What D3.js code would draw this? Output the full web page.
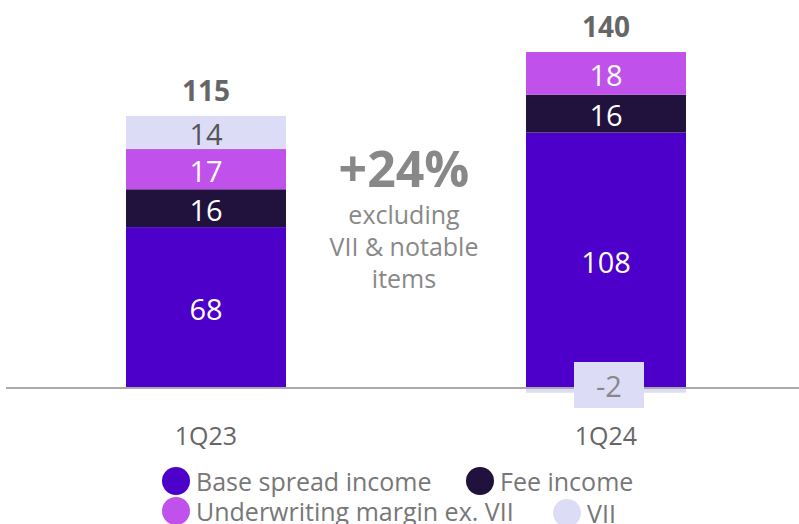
<!DOCTYPE html>
<html lang="en">
  <head>
    <meta charset="utf-8">
    <title>Income bridge</title>
    <script src="https://d3js.org/d3.v7.min.js"></script>
    <style>
      body { margin: 0; background: #fff; }
      text { font-family: "Open Sans", Lato, sans-serif; }
    </style>
  </head>
  <body>
  <script>
  const width = 799;
  const height = 524;

  const quarters = ['1Q23', '1Q24'];
  const baseSpread = [68, 108];
  const feeIncome = [16, 16];
  const uwMargin = [17, 18];
  const vii = [14, -2];
  const totals = [115, 140];

  const seriesNames = ['Base spread income', 'Fee income', 'Underwriting margin ex. VII', 'VII'];
  const seriesKeys = ['base', 'fee', 'uw', 'vii'];
  const colors = ['#4c00c9', '#21123d', '#c052eb', '#dddcf7'];
  const labelColors = ['#fff', '#fff', '#fff', '#555'];

  const rows = quarters.map((q, i) => ({
    q: q, base: baseSpread[i], fee: feeIncome[i], uw: uwMargin[i], vii: vii[i]
  }));

  const svg = d3.select(document.body).append('svg').attr('width', width).attr('height', height);

  const x = d3.scaleBand().domain(quarters).range([6, 806]).paddingInner(0.6).paddingOuter(0.3);
  const y = d3.scaleLinear().domain([0, 150]).range([388, 388 - 150 * 2.366]);

  const stacked = d3.stack().keys(seriesKeys).offset(d3.stackOffsetDiverging)(rows);

  const layer = svg.selectAll('g.layer').data(stacked).enter()
    .append('g')
    .attr('class', 'layer')
    .attr('fill', (d, i) => colors[i]);

  layer.selectAll('rect').data(d => d).enter()
    .append('rect')
    .attr('x', d => x(d.data.q))
    .attr('width', x.bandwidth())
    .attr('y', d => y(Math.max(d[0], d[1])))
    .attr('height', d => Math.abs(y(d[0]) - y(d[1])));

  // baseline
  svg.append('line')
    .attr('x1', 6).attr('x2', width)
    .attr('y1', y(0)).attr('y2', y(0))
    .attr('stroke', '#aaa').attr('stroke-width', 2);

  // segment labels
  stacked.forEach((s, si) => {
    s.forEach(d => {
      const v = d.data[s.key];
      const cx = x(d.data.q) + x.bandwidth() / 2;
      if (v < 0) {
        // small negative value shown in a tag over the baseline
        svg.append('rect')
          .attr('x', cx - 32).attr('width', 70)
          .attr('y', y(0) - 26).attr('height', 46)
          .attr('fill', colors[si]);
        svg.append('text')
          .attr('x', cx + 3).attr('y', y(0) - 3)
          .attr('text-anchor', 'middle').attr('dominant-baseline', 'central')
          .attr('font-size', 29).attr('fill', '#888')
          .text(v);
      } else {
        svg.append('text')
          .attr('x', cx).attr('y', (y(d[0]) + y(d[1])) / 2 + 1)
          .attr('text-anchor', 'middle').attr('dominant-baseline', 'central')
          .attr('font-size', 29).attr('fill', labelColors[si])
          .text(v);
      }
    });
  });

  // totals
  svg.selectAll('text.total').data(quarters).enter()
    .append('text')
    .attr('class', 'total')
    .attr('x', d => x(d) + x.bandwidth() / 2)
    .attr('y', (d, i) => y(d3.max(stacked, s => s[i][1])) - 26)
    .attr('text-anchor', 'middle').attr('dominant-baseline', 'central')
    .attr('font-size', 28).attr('font-weight', 'bold').attr('fill', '#666')
    .text((d, i) => totals[i]);

  // category labels
  svg.selectAll('text.cat').data(quarters).enter()
    .append('text')
    .attr('class', 'cat')
    .attr('x', d => x(d) + x.bandwidth() / 2)
    .attr('y', 435)
    .attr('text-anchor', 'middle').attr('dominant-baseline', 'central')
    .attr('font-size', 25).attr('fill', '#666')
    .text(d => d);

  // growth annotation
  const note = svg.append('g').attr('fill', '#888').attr('text-anchor', 'middle');
  note.append('text').attr('x', 404).attr('y', 168).attr('dominant-baseline', 'central')
    .attr('font-size', 50).attr('font-weight', 'bold').text('+24%');
  ['excluding', 'VII & notable', 'items'].forEach((t, i) => {
    note.append('text').attr('x', 404).attr('y', 214 + i * 32).attr('dominant-baseline', 'central')
      .attr('font-size', 25).text(t);
  });

  // legend
  const legendPos = [[176, 481], [480, 481], [176, 511], [567, 513]];
  const legend = svg.selectAll('g.legend').data(seriesNames).enter()
    .append('g')
    .attr('class', 'legend')
    .attr('transform', (d, i) => 'translate(' + legendPos[i][0] + ',' + legendPos[i][1] + ')');
  legend.append('ellipse').attr('rx', 14).attr('ry', 14).attr('fill', (d, i) => colors[i]);
  legend.append('text')
    .attr('x', 20).attr('dominant-baseline', 'central')
    .attr('font-size', 25).attr('fill', '#777')
    .text(d => d);
</script>
  </body>
</html>
